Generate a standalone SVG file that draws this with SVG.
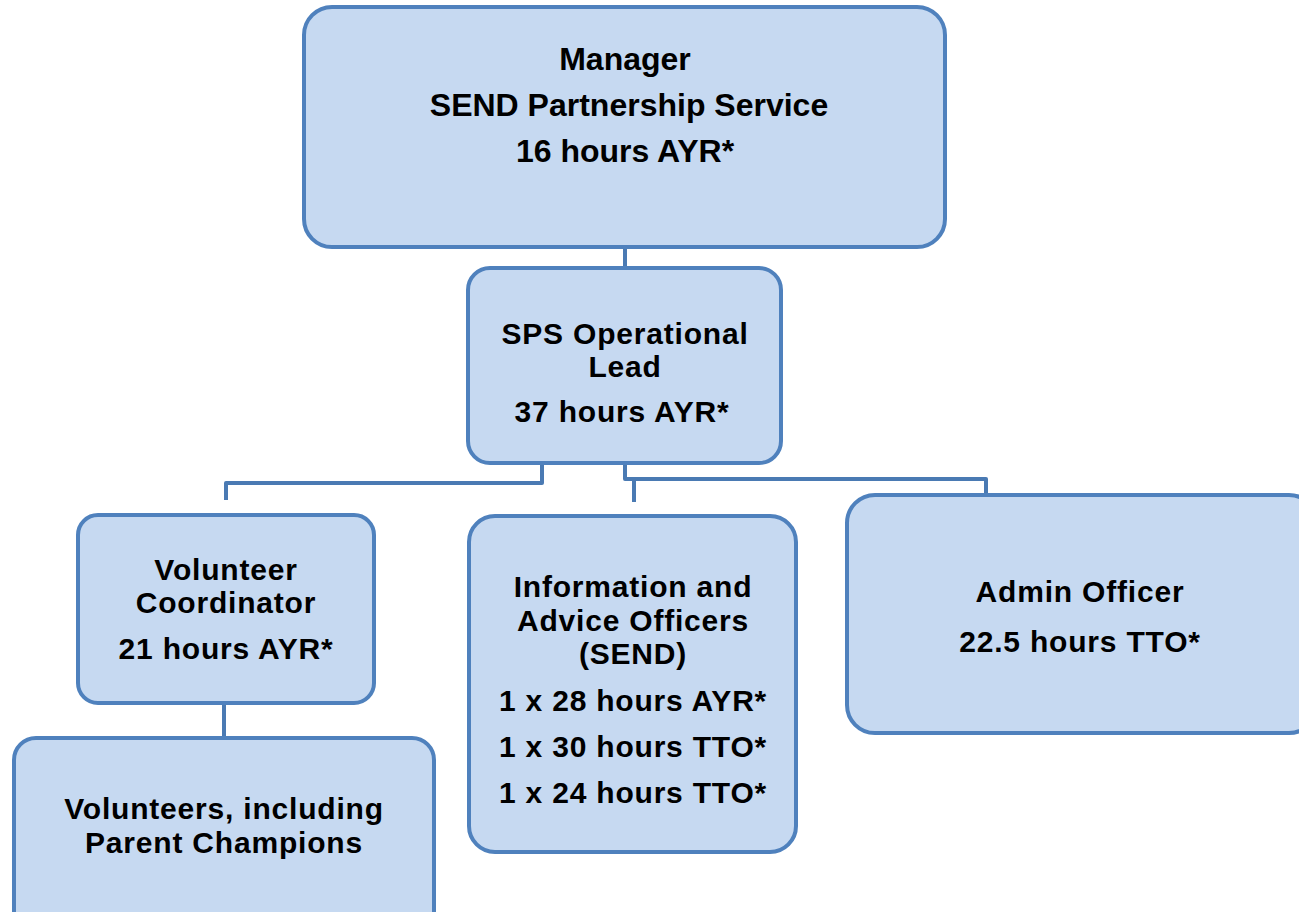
<svg xmlns="http://www.w3.org/2000/svg" width="1299" height="912" viewBox="0 0 1299 912">
  <style>
    .box { fill: #c6d9f1; stroke: #4f81bd; stroke-width: 4; }
    .conn { fill: none; stroke: #4a7ab3; stroke-width: 4; stroke-linejoin: round; }
    .t { font-family: "Liberation Sans", Arial, sans-serif; font-weight: bold; fill: #000; text-anchor: middle; font-size: 30px; letter-spacing: 0.8px; }
    .tm { font-size: 32px; letter-spacing: 0; }
  </style>
  <rect width="1299" height="912" fill="#ffffff"/>

  <g id="connectors">
    <path class="conn" d="M625 247 V268"/>
    <path class="conn" d="M542 463 V483 H226 V500"/>
    <path class="conn" d="M625 463 V479 H986 V495"/>
    <path class="conn" d="M634 479 V502"/>
    <path class="conn" d="M224 703 V737"/>
  </g>

  <g id="manager">
    <rect class="box" x="304" y="7" width="641" height="240" rx="28"/>
    <text class="t tm" x="625" y="70">Manager</text>
    <text class="t tm" x="629" y="116">SEND Partnership Service</text>
    <text class="t tm" x="625" y="162">16 hours AYR*</text>
  </g>

  <g id="sps-lead">
    <rect class="box" x="468" y="268" width="313" height="195" rx="22"/>
    <text class="t" x="625" y="344">SPS Operational</text>
    <text class="t" x="625" y="377">Lead</text>
    <text class="t" x="622" y="422">37 hours AYR*</text>
  </g>

  <g id="volunteer-coordinator">
    <rect class="box" x="78" y="515" width="296" height="188" rx="20"/>
    <text class="t" x="226" y="580">Volunteer</text>
    <text class="t" x="226" y="613">Coordinator</text>
    <text class="t" x="226" y="659">21 hours AYR*</text>
  </g>

  <g id="info-advice">
    <rect class="box" x="469" y="516" width="327" height="336" rx="26"/>
    <text class="t" x="633" y="597">Information and</text>
    <text class="t" x="633" y="631">Advice Officers</text>
    <text class="t" x="633" y="664">(SEND)</text>
    <text class="t" x="633" y="711">1 x 28 hours AYR*</text>
    <text class="t" x="633" y="757">1 x 30 hours TTO*</text>
    <text class="t" x="633" y="803">1 x 24 hours TTO*</text>
  </g>

  <g id="admin-officer">
    <rect class="box" x="847" y="495" width="470" height="238" rx="28"/>
    <text class="t" x="1080" y="602">Admin Officer</text>
    <text class="t" x="1080" y="652">22.5 hours TTO*</text>
  </g>

  <g id="volunteers">
    <rect class="box" x="14" y="738" width="420" height="200" rx="22"/>
    <text class="t" x="224" y="819">Volunteers, including</text>
    <text class="t" x="224" y="853">Parent Champions</text>
  </g>
</svg>
